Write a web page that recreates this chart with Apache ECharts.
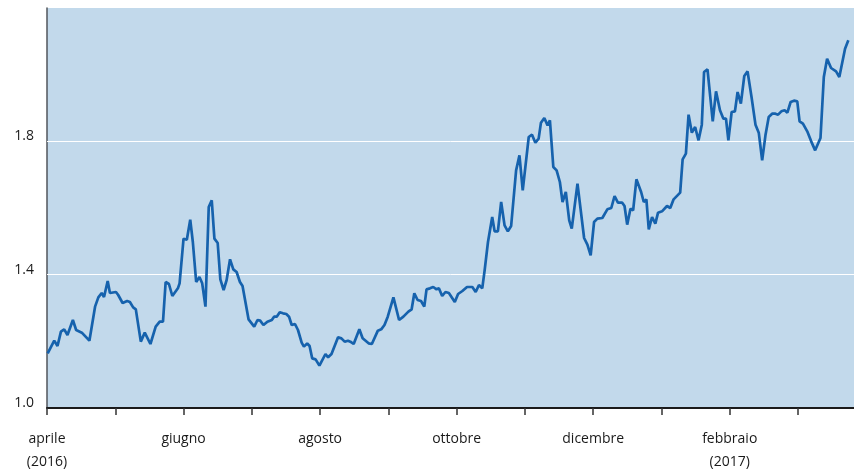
<!DOCTYPE html>
<html>
<head>
<meta charset="utf-8">
<script src="https://cdn.jsdelivr.net/npm/echarts@6/dist/echarts.min.js"></script>
<style>
html,body{margin:0;padding:0;background:#fff;}
#grafico{width:854px;height:475px;}
</style>
</head>
<body>
<div id="grafico"></div>
<script>
//posizione sull'asse: mesi dal 1 aprile 2016
var mesi=[
	0.01,0.106,0.154,0.204,0.252,0.300,0.379,0.427,0.510,0.621,0.704,0.752,0.801,0.835,0.889,0.922,1.010,1.043,1.107,1.174,1.214,1.262,1.301,1.374,1.432,1.515,1.592,1.651,1.699,1.738,1.786,1.836,1.917,
	1.942,2.000,2.048,2.098,2.136,2.185,2.233,2.273,2.321,2.369,2.413,2.452,2.500,2.539,2.587,2.631,2.681,2.729,2.777,2.826,2.864,2.952,3.035,3.083,3.122,3.170,3.228,3.293,3.326,3.365,3.409,3.457,3.505,3.545,3.584,3.632,3.676,3.730,3.763,3.811,3.846,3.884,3.934,3.990,
	4.079,4.117,4.167,4.263,4.312,4.360,4.408,4.443,4.492,4.575,4.623,4.710,4.758,4.846,4.895,4.943,4.991,5.074,5.157,5.220,5.293,5.341,5.380,5.428,5.478,5.526,5.559,5.609,5.657,5.705,5.740,5.788,5.836,5.886,5.973,6.021,
	6.084,6.152,6.230,6.279,6.327,6.375,6.410,6.459,6.521,6.556,6.604,6.652,6.702,6.750,6.798,6.871,6.920,6.968,7.056,7.104,7.153,7.201,7.235,7.284,7.332,7.366,7.416,7.464,7.512,7.551,7.599,7.649,7.686,7.770,7.867,7.915,7.963,8.013,8.061,
	8.134,8.207,8.265,8.313,8.362,8.425,8.459,8.498,8.546,8.585,8.633,8.702,8.741,8.779,8.814,8.862,8.910,8.950,9.008,9.081,9.129,9.178,9.274,9.310,9.358,9.397,9.445,9.493,9.543,9.591,9.624,9.674,9.751,9.799,9.857,9.907,9.945,9.980,10.028,
	10.076,10.115,10.163,10.213,10.261,10.319,10.377,10.425,10.475,10.523,10.571,10.621,10.669,10.708,10.756,10.804,10.844,10.892,10.941,10.989,11.023,11.072,11.135,11.193,11.251,11.329,11.378,11.426,11.484,11.557,11.605,11.689,11.737
];
var valori=[
	1.164,1.202,1.186,1.229,1.236,1.219,1.264,1.234,1.226,1.202,1.304,1.332,1.345,1.333,1.381,1.345,1.348,1.339,1.315,1.321,1.318,1.302,1.296,1.199,1.226,1.192,1.244,1.259,1.259,1.378,1.372,1.336,1.359,
	1.374,1.508,1.505,1.565,1.498,1.378,1.393,1.374,1.304,1.603,1.623,1.508,1.495,1.386,1.354,1.384,1.446,1.416,1.408,1.378,1.366,1.266,1.244,1.264,1.262,1.249,1.259,1.264,1.274,1.274,1.287,1.284,1.282,1.274,1.249,1.252,1.234,1.196,1.184,1.194,1.186,1.149,1.146,1.127,
	1.162,1.152,1.162,1.212,1.209,1.199,1.202,1.199,1.192,1.236,1.209,1.194,1.192,1.232,1.236,1.249,1.274,1.332,1.264,1.274,1.289,1.296,1.344,1.324,1.321,1.304,1.356,1.359,1.363,1.356,1.359,1.336,1.348,1.345,1.318,1.342,
	1.351,1.363,1.363,1.348,1.369,1.359,1.413,1.498,1.573,1.530,1.530,1.618,1.548,1.530,1.546,1.713,1.758,1.653,1.813,1.820,1.796,1.808,1.856,1.870,1.848,1.863,1.723,1.713,1.678,1.618,1.648,1.563,1.538,1.673,1.510,1.490,1.458,1.558,1.568,
	1.570,1.596,1.600,1.636,1.616,1.616,1.606,1.550,1.598,1.593,1.686,1.648,1.618,1.626,1.536,1.573,1.553,1.586,1.590,1.606,1.600,1.626,1.646,1.746,1.763,1.880,1.826,1.843,1.803,1.850,2.008,2.016,1.860,1.950,1.893,1.868,1.868,1.803,1.888,
	1.890,1.948,1.913,1.996,2.010,1.933,1.850,1.826,1.743,1.818,1.873,1.883,1.883,1.880,1.890,1.893,1.886,1.918,1.922,1.920,1.860,1.853,1.830,1.800,1.773,1.810,1.993,2.048,2.020,2.010,1.993,2.078,2.103
];
//etichette dei mesi (una ogni due tacche)
var etichetteMesi=['aprile\n(2016)','giugno','agosto','ottobre','dicembre','febbraio\n(2017)'];
var etichetteY=[1.0,1.4,1.8];
var lineeGriglia=[1.4,1.8];

var punti=[];
for(var i=0,len=Math.min(mesi.length,valori.length);i<len;i++){
	punti.push([mesi[i],valori[i]]);
}

var fonte='"Open Sans", "DejaVu Sans", sans-serif';
var chart=echarts.init(document.getElementById('grafico'));
chart.setOption({
	animation:false,
	grid:{
		left:47,
		right:-4,
		top:8,
		bottom:67,
		show:true,
		backgroundColor:'#c2d9eb',
		borderWidth:0
	},
	xAxis:{
		type:'value',
		min:0,
		max:11.82,
		interval:1,
		axisLine:{
			lineStyle:{color:'#1a1a1a',width:2}
		},
		axisTick:{
			show:true,
			length:7,
			lineStyle:{color:'#333',width:1.5}
		},
		splitLine:{show:false},
		axisLabel:{
			margin:20,
			fontFamily:fonte,
			fontSize:14,
			lineHeight:23,
			color:'#1a1a1a',
			showMaxLabel:false,
			formatter:function(v){
				var n=Math.round(v);
				if(Math.abs(v-n)>0.001||n%2!==0){
					return '';
				}
				return etichetteMesi[n/2]||'';
			}
		}
	},
	yAxis:{
		type:'value',
		min:1.0,
		max:2.2,
		interval:0.2,
		axisLine:{
			show:true,
			lineStyle:{color:'#50555b',width:1.5}
		},
		axisTick:{show:false},
		splitLine:{show:false},
		axisLabel:{
			margin:13,
			fontFamily:fonte,
			fontSize:14,
			color:'#1a1a1a',
			verticalAlign:'bottom',
			lineHeight:10,
			formatter:function(v){
				for(var k=0;k<etichetteY.length;k++){
					if(Math.abs(v-etichetteY[k])<0.001){
						return etichetteY[k].toFixed(1);
					}
				}
				return '';
			}
		}
	},
	series:[
		{
			type:'line',
			data:punti,
			symbol:'none',
			lineStyle:{color:'#1662ad',width:2.7},
			z:3,
			markLine:{
				silent:true,
				symbol:'none',
				label:{show:false},
				lineStyle:{color:'#ffffff',width:1,type:'solid'},
				data:lineeGriglia.map(function(y){return {yAxis:y};}),
				z:1
			}
		}
	]
});
</script>
</body>
</html>
